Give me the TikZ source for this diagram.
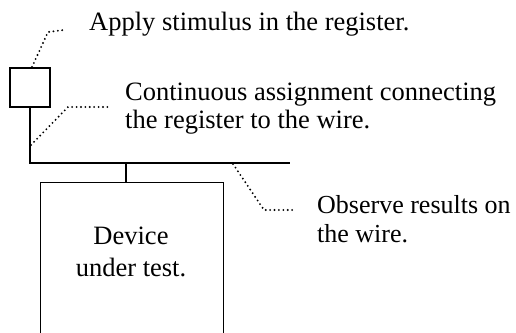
\documentclass[tikz,border=0pt]{standalone}
\usepackage{fontspec}
\setmainfont{Liberation Serif}
\begin{document}
\begin{tikzpicture}[x=1pt,y=-1pt,
  wire/.style={line width=1.4pt},
  dots/.style={line width=2.1pt,line cap=round,dash pattern=on 0pt off 4.4pt},
  lbl/.style={anchor=base west,inner sep=0pt,font=\fontsize{26.5}{28.5}\selectfont,align=left},
  dutlbl/.style={inner sep=0pt,font=\fontsize{26.5}{32}\selectfont,align=center}]
\clip (0,0) rectangle (516,332);
\fill[white] (0,0) rectangle (516,332);
% register
\node[draw,wire,minimum width=40pt,minimum height=39pt,inner sep=0pt] (reg) at (30,87.5) {};
% DUT box (open at bottom, extends past the page)
\node[draw,wire,minimum width=183pt,minimum height=180pt,inner sep=0pt,anchor=north west] (dut) at (40,182) {};
\node[dutlbl] (dutt) at (131,252) {Device\\under test.};
% wire
\coordinate (wl) at (30,163);
\coordinate (wr) at (290,163);
\coordinate (tap) at (126,163);
\draw[wire] (reg.south) -- (wl) -- (wr);
\draw[wire] (tap) -- (dut.north -| tap);
% labels (base = baseline of the last line)
\node[lbl] (t1) at (89,30) {Apply stimulus in the register.};
\node[lbl] (t2) at (125,128.5) {Continuous assignment connecting\\the register to the wire.};
\node[lbl,font=\fontsize{26}{28.5}\selectfont] (t3) at (317,242) {Observe results on\\the wire.};
% callouts
\coordinate (c1a) at (32,67);
\coordinate (c1b) at (48,32);
\coordinate (c1c) at (64,30);
\draw[dots] (c1a) -- (c1b) -- (c1c);
\coordinate (c2a) at (31,145);
\coordinate (c2b) at (68,107);
\coordinate (c2c) at (108,107);
\draw[dots] (c2a) -- (c2b) -- (c2c);
\coordinate (c3a) at (233,164);
\coordinate (c3b) at (264,210);
\coordinate (c3c) at (295,210);
\draw[dots] (c3a) -- (c3b) -- (c3c);
\end{tikzpicture}
\end{document}
